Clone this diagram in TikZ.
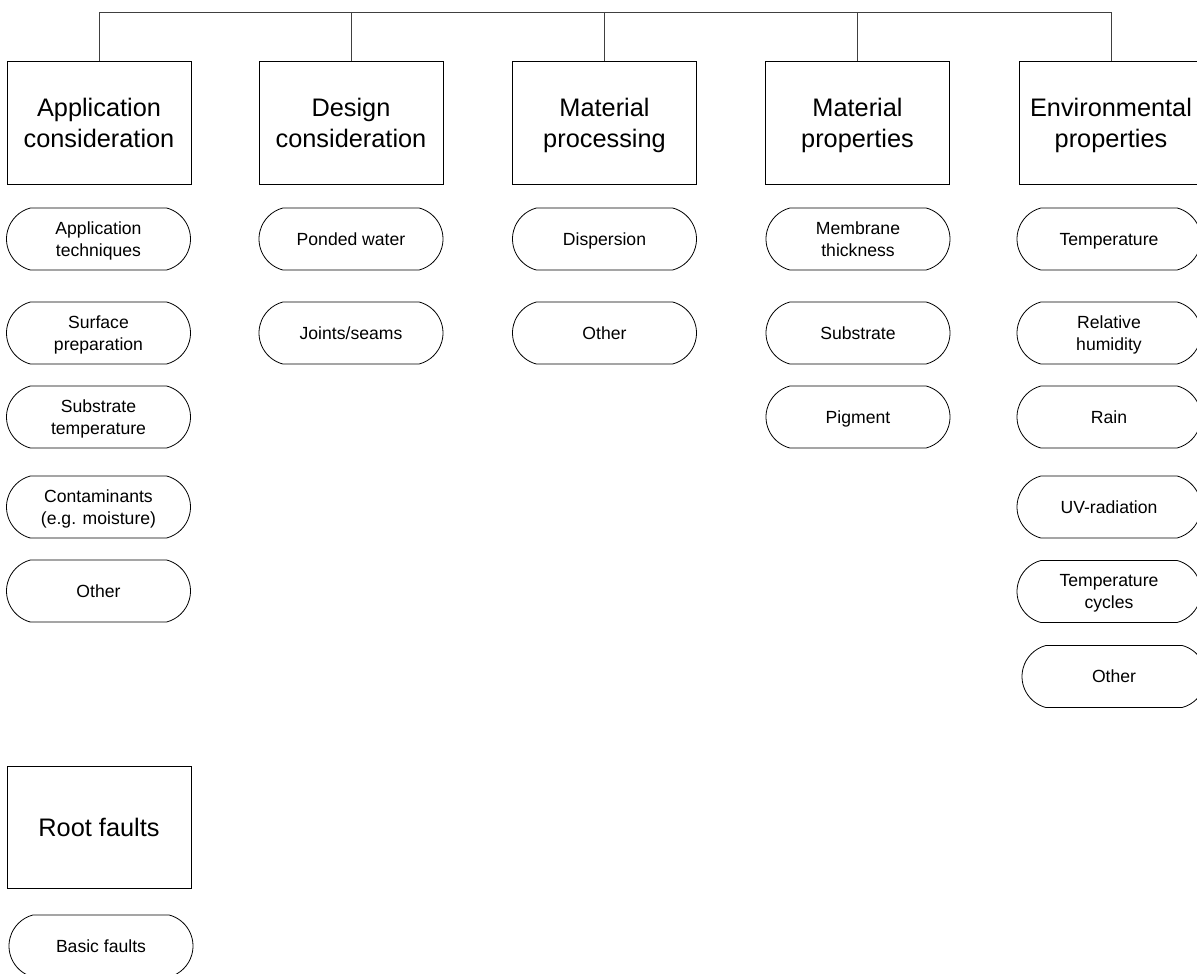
\documentclass[tikz,border=0pt]{standalone}
\usepackage{fontspec}
\setmainfont{Liberation Sans}
\usetikzlibrary{shapes.misc}

% last line of a label: keep its height, drop its depth
\newcommand\flatline[1]{\raisebox{0pt}[\height][0pt]{#1}}

\tikzset{
  heading/.style={draw=black, line width=0.75pt, rectangle,
    minimum width=138pt, minimum height=91.5pt, inner sep=0pt,
    align=center, font=\fontsize{19}{23.25}\selectfont},
  factor/.style={draw=black, line width=0.6pt, rounded rectangle,
    rounded rectangle arc length=150,
    minimum width=138pt, minimum height=46.5pt, inner sep=0pt,
    align=center, font=\fontsize{13.2}{16.5}\selectfont},
  link/.style={draw=black!75, line width=0.6pt}
}

\begin{document}
\begin{tikzpicture}[x=0.75pt, y=-0.75pt]
  \clip (0,0) rectangle (1197,974);

  % category headings
  \node[heading] (app)  at (99,123)    {Application\\consideration};
  \node[heading] (des)  at (351,123)   {Design\\consideration};
  \node[heading] (proc) at (604.5,123) {Material\\\flatline{processing}};
  \node[heading] (prop) at (857.5,123) {Material\\\flatline{properties}};
  \node[heading] (env)  at (1111,123)  {Environmental\\\flatline{properties}};

  % joining bar over the headings
  \coordinate (bar) at (0,12);
  \draw[link] (app.north) -- (app.north |- bar) -- (env.north |- bar) -- (env.north);
  \draw[link] (des.north) -- (des.north |- bar);
  \draw[link] (proc.north) -- (proc.north |- bar);
  \draw[link] (prop.north) -- (prop.north |- bar);

  % application consideration
  \node[factor] (a1) at (98.5,239) {Application\\\flatline{techniques}};
  \node[factor] (a2) at (98.5,333) {Surface\\\flatline{preparation}};
  \node[factor] (a3) at (98.5,417) {Substrate\\\flatline{temperature}};
  \node[factor] (a4) at (98.5,507) {Contaminants\\\flatline{(e.g. moisture)}};
  \node[factor] (a5) at (98.5,591) {Other};

  % design consideration
  \node[factor] (d1) at (351,239) {Ponded water};
  \node[factor] (d2) at (351,333) {\flatline{Joints/seams}};

  % material processing
  \node[factor] (m1) at (604.5,239) {\flatline{Dispersion}};
  \node[factor] (m2) at (604.5,333) {Other};

  % material properties
  \node[factor] (p1) at (858,239) {Membrane\\thickness};
  \node[factor] (p2) at (858,333) {Substrate};
  \node[factor] (p3) at (858,417) {\flatline{Pigment}};

  % environmental properties
  \node[factor] (e1) at (1109,239)   {\flatline{Temperature}};
  \node[factor] (e2) at (1109,333)   {Relative\\\flatline{humidity}};
  \node[factor] (e3) at (1109,417)   {Rain};
  \node[factor] (e4) at (1109,507)   {UV-radiation};
  \node[factor] (e5) at (1109,591.5) {Temperature\\\flatline{cycles}};
  \node[factor] (e6) at (1114,676.5) {Other};

  % legend
  \node[heading] (root)  at (99,827)  {Root faults};
  \node[factor]  (basic) at (101,946) {Basic faults};
\end{tikzpicture}
\end{document}
